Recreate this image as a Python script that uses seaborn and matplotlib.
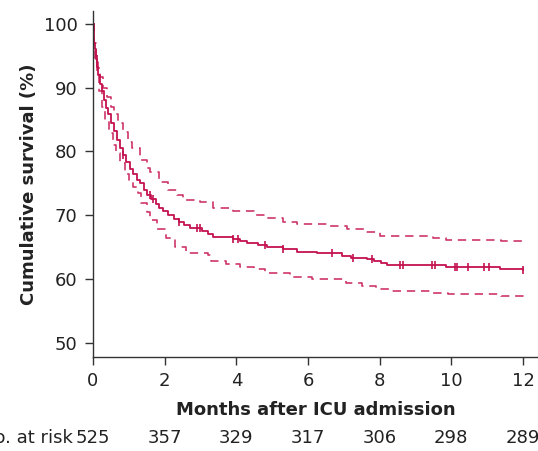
import numpy as np
import pandas as pd
import seaborn as sns
import matplotlib.pyplot as plt
import matplotlib.transforms as mtrans

######### data #########
# Kaplan-Meier estimate (months, cumulative survival %)
km_time = [0.00, 0.02, 0.04, 0.06, 0.09, 0.11, 0.15, 0.20, 0.25, 0.30, 0.36, 0.42,
           0.50, 0.58, 0.67, 0.75, 0.84, 0.93, 1.03, 1.12, 1.22, 1.31, 1.42, 1.52,
           1.62, 1.75, 1.85, 1.95, 2.10, 2.25, 2.40, 2.55, 2.70, 3.05, 3.20, 3.35,
           3.90, 4.10, 4.30, 4.60, 4.85, 5.30, 5.70, 6.25, 6.95, 7.20, 7.65, 7.85,
           8.05, 8.20, 9.85, 11.35, 12.00]
km_surv = [100, 98.5, 97, 96, 94.5, 93.3, 92, 90.5, 89.5, 88, 86.8, 85.8,
           84.5, 83.2, 81.8, 80.5, 79.5, 78.3, 77.3, 76.5, 75.6, 75.0, 74.0, 73.2,
           72.6, 71.8, 71.2, 70.7, 70.0, 69.4, 69.0, 68.4, 68.0, 67.6, 67.1, 66.6,
           66.3, 65.9, 65.6, 65.3, 65.0, 64.7, 64.3, 64.1, 63.6, 63.3, 63.1, 62.8,
           62.5, 62.2, 61.9, 61.6, 61.4]

upper_time = [0, 0.03, 0.07, 0.11, 0.15, 0.20, 0.28, 0.39, 0.50, 0.60, 0.70, 0.84,
              0.98, 1.10, 1.30, 1.50, 1.60, 1.85, 2.10, 2.35, 2.50, 2.98, 3.35, 3.90,
              4.50, 4.80, 5.30, 5.70, 6.55, 7.10, 7.60, 8.00, 9.50, 9.85, 11.40, 12.00]
upper_surv = [100, 97, 95, 94.4, 93, 91.7, 90, 88.6, 87, 85.8, 84.5, 83,
              81.5, 80.5, 78.7, 77.4, 76.8, 75.2, 74, 73.2, 72.4, 72.1, 71.2, 70.7,
              70.1, 69.6, 69.0, 68.6, 68.3, 67.9, 67.4, 66.8, 66.4, 66.1, 65.9, 65.7]

lower_time = [0, 0.03, 0.05, 0.10, 0.17, 0.25, 0.33, 0.45, 0.55, 0.65, 0.75, 0.90,
              1.00, 1.12, 1.25, 1.35, 1.50, 1.60, 1.80, 2.05, 2.30, 2.60, 3.20, 3.30,
              3.70, 4.10, 4.50, 4.80, 5.50, 6.10, 7.05, 7.50, 7.90, 8.30, 9.50, 9.90,
              11.40, 12.00]
lower_surv = [100, 96, 93.9, 92.3, 89.5, 87, 85, 82.9, 81, 79.8, 78.2, 76.5,
              75.5, 74.5, 73.5, 72, 70.5, 69.3, 67.8, 66.4, 65, 64.1, 63.8, 62.9,
              62.4, 61.9, 61.6, 61.0, 60.3, 60, 59.4, 58.9, 58.5, 58.2, 57.8, 57.6,
              57.3, 57.2]

# censored observations (months)
censor_time = [0.1, 0.84, 1.6, 1.67, 2.4, 2.9, 3.0, 3.9, 4.05, 4.8, 5.3, 6.67,
               7.26, 7.8, 8.57, 8.65, 9.46, 9.55, 10.1, 10.16, 10.47, 10.9, 11.05, 12.0]

risk_months = [0, 2, 4, 6, 8, 10, 12]
n_at_risk = [525, 357, 329, 317, 306, 298, 289]

######### plot #########
sns.set_style('ticks')
plt.rcParams['font.family'] = ['DejaVu Sans']
plt.rcParams.update({'font.size': 13, 'axes.labelsize': 13,
                     'xtick.labelsize': 13, 'ytick.labelsize': 13})

col = '#c4124f'
txt = '#222222'

km = pd.DataFrame({'Months': km_time, 'Survival': km_surv})
up = pd.DataFrame({'Months': upper_time, 'Survival': upper_surv})
lo = pd.DataFrame({'Months': lower_time, 'Survival': lower_surv})

# survival value at each censoring time (step function lookup)
idx = np.searchsorted(km_time, censor_time, side='right') - 1
cens = pd.DataFrame({'Months': censor_time, 'Survival': np.array(km_surv)[idx]})

fig = plt.figure(figsize=(5.38, 4.51), dpi=100)
ax = fig.add_axes([93 / 538, 1 - 357 / 451, 1 - 93 / 538, (357 - 11) / 451])

sns.lineplot(data=km, x='Months', y='Survival', color=col, lw=1.3,
             drawstyle='steps-post', estimator=None, sort=False, ax=ax)
for d in (up, lo):
    sns.lineplot(data=d, x='Months', y='Survival', color=col, lw=1.2,
                 drawstyle='steps-post', estimator=None, sort=False,
                 linestyle=(0, (5, 3.5)), alpha=0.85, ax=ax)
sns.scatterplot(data=cens, x='Months', y='Survival', marker='|', s=28,
                color=col, linewidth=1.2, ax=ax, zorder=3)

ax.set_xlim(0, 12.42)
ax.set_ylim(47.8, 102)
ax.set_xticks(risk_months)
ax.set_yticks(np.arange(50, 101, 10))
ax.set_xlabel('Months after ICU admission', fontweight='bold', labelpad=8, color=txt)
ax.set_ylabel('Cumulative survival (%)', fontweight='bold', labelpad=4.5, color=txt)
ax.tick_params(length=6, width=1, color='#333333', pad=5, labelcolor=txt)
for sp in ['top', 'right']:
    ax.spines[sp].set_visible(False)
for sp in ['left', 'bottom']:
    ax.spines[sp].set_color('#333333')
    ax.spines[sp].set_linewidth(1)

# number at risk row
tr = mtrans.blended_transform_factory(ax.transData, fig.transFigure)
for m, n in zip(risk_months, n_at_risk):
    ax.text(m, 1 - 438 / 451, str(n), ha='center', va='center', color=txt,
            fontsize=13, transform=tr, clip_on=False)
ax.text(-0.55, 1 - 438 / 451, 'No. at risk', ha='right', va='center', color=txt,
        fontsize=13, transform=tr, clip_on=False)

fig.savefig('out.png', dpi=100)
